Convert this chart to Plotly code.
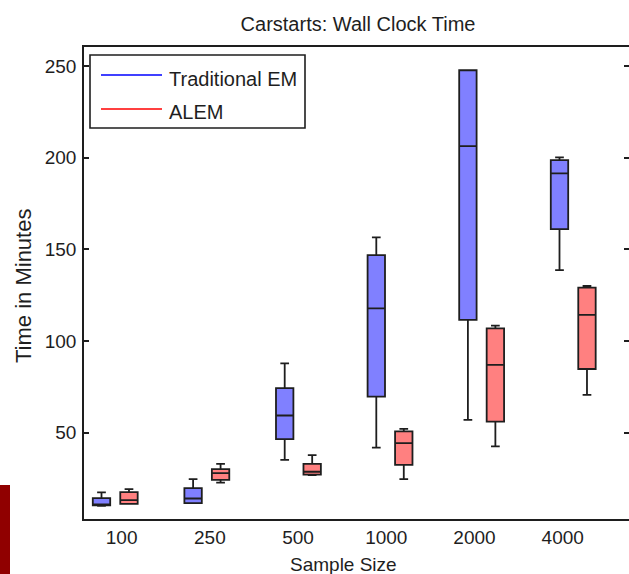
import plotly.graph_objects as go

# ---- data (minutes) ----
sample_sizes = ["100", "250", "500", "1000", "2000", "4000"]

# Traditional EM: whisker ends, quartiles and medians per sample size
em_lower = [10.0, 11.5, 35.1, 41.8, 56.9, 138.7]
em_q1 = [10.2, 11.5, 46.4, 69.6, 111.5, 161.1]
em_median = [10.8, 14.0, 59.3, 117.8, 206.4, 191.5]
em_q3 = [14.2, 19.7, 74.2, 146.9, 247.8, 198.7]
em_upper = [17.3, 24.6, 87.8, 156.6, 247.8, 200.2]

# ALEM
alem_lower = [11.1, 22.7, 26.8, 24.6, 42.4, 70.6]
alem_q1 = [11.1, 24.2, 27.0, 32.4, 56.0, 84.7]
alem_median = [13.1, 27.8, 28.6, 44.2, 86.9, 114.2]
alem_q3 = [17.5, 30.0, 32.9, 50.6, 106.9, 129.1]
alem_upper = [19.1, 32.9, 37.7, 52.0, 108.4, 130.0]

y_ticks = [50, 100, 150, 200, 250]

# ---- layout geometry ----
W, H = 629, 574
ML, MR, MT, MB = 84, 0, 47, 55
PW, PH = W - ML - MR, H - MT - MB

FONT = "Liberation Sans, Arial, sans-serif"
INK = "#1e1e1e"
EM_FILL, EM_LINE = "#8080ff", "#0000ff"
AL_FILL, AL_LINE = "#ff8080", "#ff0000"

group_idx = list(range(len(sample_sizes)))
offset = 0.15
box_w = 0.19
label_pos = [0.07 + 0.963 * k for k in group_idx]


def px_x(px):
    return (px - ML) / PW


def px_y(py):
    return (H - MB - py) / PH


fig = go.Figure()

fig.add_trace(go.Box(
    name="Traditional EM",
    x=[i - offset for i in group_idx],
    lowerfence=em_lower, q1=em_q1, median=em_median, q3=em_q3, upperfence=em_upper,
    width=box_w, whiskerwidth=0.5,
    fillcolor=EM_FILL, line=dict(color=INK, width=1.8),
    boxpoints=False, showlegend=False, hoverinfo="skip",
))
fig.add_trace(go.Box(
    name="ALEM",
    x=[i + offset for i in group_idx],
    lowerfence=alem_lower, q1=alem_q1, median=alem_median, q3=alem_q3, upperfence=alem_upper,
    width=box_w, whiskerwidth=0.5,
    fillcolor=AL_FILL, line=dict(color=INK, width=1.8),
    boxpoints=False, showlegend=False, hoverinfo="skip",
))

y_range = [2.8, 260.5]
x_range = [-0.341, -0.341 + PW / 91.6]

fig.update_layout(
    width=W, height=H,
    margin=dict(l=ML, r=MR, t=MT, b=MB, pad=0),
    paper_bgcolor="white", plot_bgcolor="white",
    font=dict(family=FONT, size=19, color=INK),
    showlegend=False,
    boxmode="overlay",
    title=dict(text="Carstarts: Wall Clock Time", x=358 / W, xanchor="center",
               xref="container", y=1 - 24 / H, yref="container", yanchor="middle",
               font=dict(family=FONT, size=20, color=INK)),
    xaxis=dict(range=x_range, tickmode="array", tickvals=label_pos, ticktext=sample_sizes,
               ticks="", showline=True, linecolor=INK, linewidth=1.6, mirror=True,
               showgrid=False, zeroline=False, ticklabelstandoff=0,
               tickfont=dict(family=FONT, size=19, color=INK)),
    yaxis=dict(range=y_range, tickmode="array", tickvals=y_ticks, ticks="inside",
               ticklen=5, tickwidth=1.5, tickcolor=INK,
               showline=True, linecolor=INK, linewidth=1.6, mirror=False,
               showgrid=False, zeroline=False, ticklabelstandoff=2,
               tickfont=dict(family=FONT, size=19, color=INK)),
    yaxis2=dict(range=y_range, overlaying="y", side="right", tickmode="array",
                tickvals=y_ticks, ticks="inside", ticklen=5, tickwidth=1.5, tickcolor=INK,
                showticklabels=False, showline=False, showgrid=False, zeroline=False),
)

# invisible trace to carry the right-hand tick axis
fig.add_trace(go.Scatter(x=[None], y=[None], yaxis="y2", showlegend=False, hoverinfo="skip"))

# axis labels
fig.add_annotation(text="Sample Size", xref="paper", yref="paper",
                   x=px_x(343), y=px_y(564), xanchor="center", yanchor="middle",
                   showarrow=False, font=dict(family=FONT, size=19, color=INK))
fig.add_annotation(text="Time in Minutes", xref="paper", yref="paper",
                   x=px_x(23), y=px_y(286), xanchor="center", yanchor="middle",
                   textangle=-90, showarrow=False,
                   font=dict(family=FONT, size=22, color=INK))

# legend box with line samples
fig.add_shape(type="rect", xref="paper", yref="paper",
              x0=px_x(90), x1=px_x(305), y0=px_y(128), y1=px_y(55),
              line=dict(color=INK, width=1.6), fillcolor="white", layer="above")
for name, col, ly, ty in [("Traditional EM", EM_LINE, 75, 79), ("ALEM", AL_LINE, 109, 111.5)]:
    fig.add_shape(type="line", xref="paper", yref="paper",
                  x0=px_x(101), x1=px_x(162), y0=px_y(ly), y1=px_y(ly),
                  line=dict(color=col, width=1.6), layer="above")
    fig.add_annotation(text=name, xref="paper", yref="paper",
                       x=px_x(167), y=px_y(ty), xanchor="left", yanchor="middle",
                       showarrow=False, font=dict(family=FONT, size=20, color=INK))

# dark red slide strip at the lower left edge
fig.add_shape(type="rect", xref="paper", yref="paper",
              x0=px_x(0), x1=px_x(10), y0=px_y(574), y1=px_y(485),
              line=dict(width=0), fillcolor="#900000", layer="above")

fig.write_html("out.html")
